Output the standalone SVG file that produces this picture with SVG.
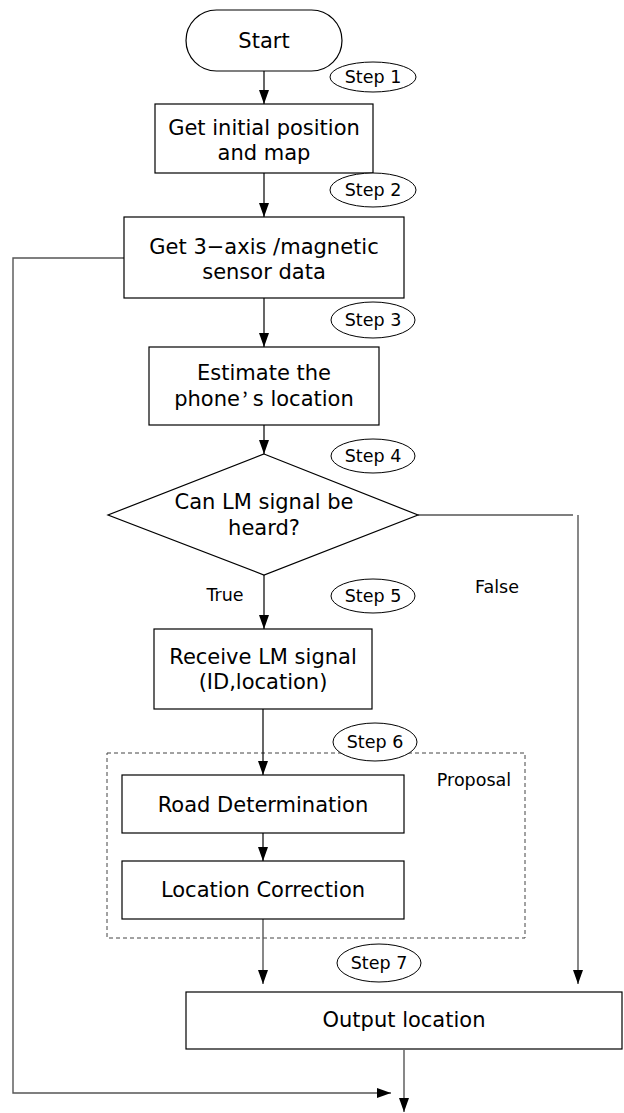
<svg xmlns="http://www.w3.org/2000/svg" width="624" height="1113" viewBox="0 0 624 1113">
<style>
.box{fill:#fff;stroke:#000;stroke-width:1.2}
.t{font-family:"DejaVu Sans","Noto Sans CJK JP",sans-serif;font-size:21px;fill:#000;text-anchor:middle;dominant-baseline:central}
.s{font-family:"DejaVu Sans","Noto Sans CJK JP",sans-serif;font-size:17.5px;fill:#000;text-anchor:middle;dominant-baseline:central}
.step{fill:#fff;stroke:#000;stroke-width:1}
.ln{fill:none;stroke:#000;stroke-width:1.2}
.gl{fill:none;stroke:#555;stroke-width:1.4}
.cj{font-family:"Noto Sans CJK JP",sans-serif}
</style>
<defs>
<marker id="ahl" viewBox="0 0 14 10" refX="14" refY="5" markerWidth="14" markerHeight="10" markerUnits="userSpaceOnUse" orient="auto">
<path d="M0,0 L14,5 L0,10 z" fill="#000"/>
</marker>
</defs>

<g id="proposal">
<rect x="107" y="753" width="418" height="185" fill="none" stroke="#444" stroke-width="1" stroke-dasharray="4 3"/>
<text class="s" x="474" y="780">Proposal</text>
</g>

<g id="connectors">
<line class="ln" x1="264" y1="71" x2="264" y2="104" marker-end="url(#ahl)"/>
<line class="ln" x1="264" y1="173" x2="264" y2="217" marker-end="url(#ahl)"/>
<line class="ln" x1="264" y1="298" x2="264" y2="347" marker-end="url(#ahl)"/>
<line class="ln" x1="264" y1="425" x2="264" y2="454" marker-end="url(#ahl)"/>
<line class="ln" x1="264" y1="575" x2="264" y2="629" marker-end="url(#ahl)"/>
<line class="ln" x1="263" y1="709" x2="263" y2="775" marker-end="url(#ahl)"/>
<line class="ln" x1="263" y1="833" x2="263" y2="861" marker-end="url(#ahl)"/>
<line class="gl" x1="263" y1="919" x2="263" y2="984" marker-end="url(#ahl)"/>
<polyline class="ln" points="418,515 573,515"/>
<line class="gl" x1="578" y1="515" x2="578" y2="984" marker-end="url(#ahl)"/>
<polyline class="gl" points="124,258 13,258 13,1093 391,1093" marker-end="url(#ahl)"/>
<line class="gl" x1="404" y1="1050" x2="404" y2="1112" marker-end="url(#ahl)"/>
</g>

<g id="start">
<rect class="box" x="186" y="10" width="156" height="61" rx="30.5" ry="30.5"/>
<text class="t" x="264" y="41">Start</text>
</g>
<g id="box1">
<rect class="box" x="155" y="104" width="218" height="69"/>
<text class="t" x="264" y="128">Get initial position</text>
<text class="t" x="264" y="153">and map</text>
</g>
<g id="box2">
<rect class="box" x="124" y="217" width="280" height="81"/>
<text class="t" x="264" y="247">Get 3−axis /magnetic</text>
<text class="t" x="264" y="272">sensor data</text>
</g>
<g id="box3">
<rect class="box" x="149" y="347" width="230" height="78"/>
<text class="t" x="264" y="373">Estimate the</text>
<text class="t" x="264" y="399">phone<tspan class="cj" dx="2">’</tspan><tspan dx="5">s location</tspan></text>
</g>
<g id="decision">
<polygon class="box" points="264,454 418,515 264,575 108,515"/>
<text class="t" x="264" y="502">Can LM signal be</text>
<text class="t" x="264" y="528">heard?</text>
</g>
<g id="receive">
<rect class="box" x="154" y="629" width="218" height="80"/>
<text class="t" x="263" y="657">Receive LM signal</text>
<text class="t" x="263" y="682">(ID,location)</text>
</g>
<g id="road">
<rect class="box" x="122" y="775" width="282" height="58"/>
<text class="t" x="263" y="805">Road Determination</text>
</g>
<g id="correction">
<rect class="box" x="122" y="861" width="282" height="58"/>
<text class="t" x="263" y="890">Location Correction</text>
</g>
<g id="output">
<rect class="box" x="186" y="992" width="436" height="57"/>
<text class="t" x="404" y="1020">Output location</text>
</g>

<g id="labels">
<text class="s" x="225" y="595">True</text>
<text class="s" x="497" y="587">False</text>
</g>

<g id="step1"><ellipse class="step" cx="373" cy="77" rx="43" ry="15"/><text class="s" x="373" y="77">Step 1</text></g>
<g id="step2"><ellipse class="step" cx="373" cy="190" rx="43" ry="17"/><text class="s" x="373" y="190">Step 2</text></g>
<g id="step3"><ellipse class="step" cx="373" cy="320" rx="42" ry="18"/><text class="s" x="373" y="320">Step 3</text></g>
<g id="step4"><ellipse class="step" cx="373" cy="456" rx="42" ry="17"/><text class="s" x="373" y="456">Step 4</text></g>
<g id="step5"><ellipse class="step" cx="373" cy="596" rx="42" ry="17"/><text class="s" x="373" y="596">Step 5</text></g>
<g id="step6"><ellipse class="step" cx="375" cy="742" rx="42" ry="19"/><text class="s" x="375" y="742">Step 6</text></g>
<g id="step7"><ellipse class="step" cx="379" cy="963" rx="42" ry="19"/><text class="s" x="379" y="963">Step 7</text></g>
</svg>
